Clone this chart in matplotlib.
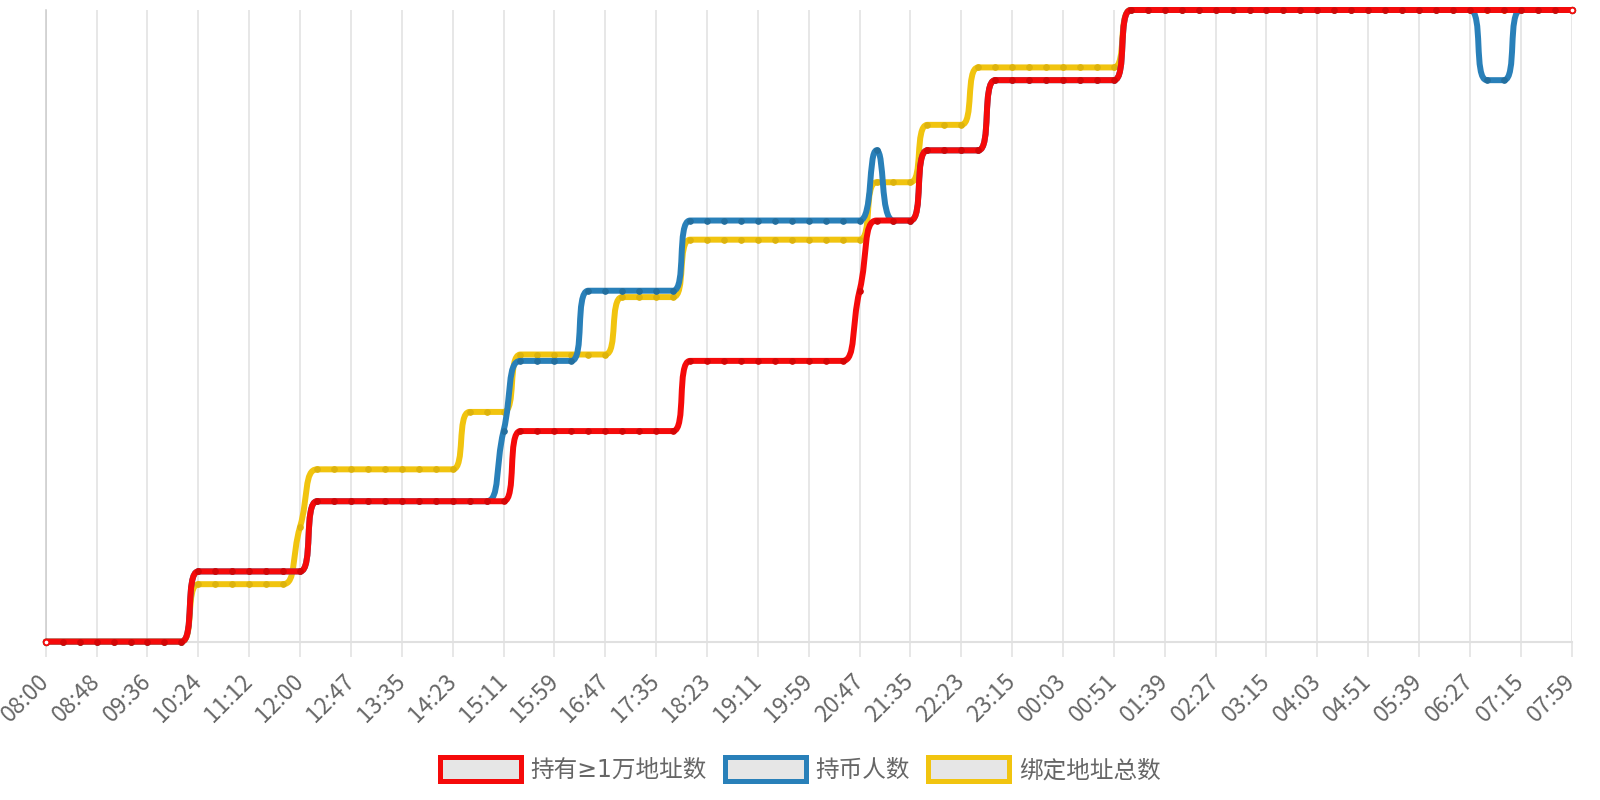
import math
import matplotlib
matplotlib.use("Agg")
import matplotlib.pyplot as plt
from matplotlib.path import Path
from matplotlib.patches import PathPatch, Patch

plt.rcParams['font.family'] = ['Noto Sans CJK SC', 'DejaVu Sans']

# one point every ~16 minutes from 08:00 to 07:59, labels on every 3rd point
tick_labels = ["08:00", "08:48", "09:36", "10:24", "11:12", "12:00", "12:47", "13:35",
               "14:23", "15:11", "15:59", "16:47", "17:35", "18:23", "19:11", "19:59",
               "20:47", "21:35", "22:23", "23:15", "00:03", "00:51", "01:39", "02:27",
               "03:15", "04:03", "04:51", "05:39", "06:27", "07:15", "07:59"]

red_vals = ([0] * 9 + [1] * 7 + [2] * 12 + [3] * 10 + [4] * 10 + [5] + [6] * 3
            + [7] * 4 + [8] * 8 + [9] * 27)
blue_vals = ([0] * 9 + [1] * 7 + [2] * 11 + [3] + [4] * 4 + [5] * 6 + [6] * 11 + [7]
             + [6] * 2 + [7] * 4 + [8] * 8 + [9] * 21 + [8] * 2 + [9] * 4)
yellow_vals = ([0] * 9 + [1] * 6 + [2] + [3] * 9 + [4] * 3 + [5] * 6 + [6] * 4 + [7] * 11
               + [8] * 3 + [9] * 3 + [10] * 9 + [11] * 27)

series_names = ["持有≥1万地址数", "持币人数", "绑定地址总数"]
colors = ["#f50a0a", "#2980b9", "#f1c40f"]
dot_colors = ["#d40606", "#236f9f", "#ddb30c"]

x = list(range(len(red_vals)))


def smooth_path(ax, xs, ys, smooth=0.5):
    # echarts style smoothing, computed in pixel space
    pts = ax.transData.transform(list(zip(xs, ys)))
    n = len(pts)
    c_in = [tuple(p) for p in pts]
    c_out = [tuple(p) for p in pts]
    for i in range(1, n - 1):
        px, py = pts[i - 1]
        cx, cy = pts[i]
        nx, ny = pts[i + 1]
        vx, vy = nx - px, ny - py
        d0 = math.hypot(cx - px, cy - py)
        d1 = math.hypot(nx - cx, ny - cy)
        r = d1 / (d0 + d1)
        ox = cx + vx * smooth * r
        oy = cy + vy * smooth * r
        ox = max(min(ox, max(nx, cx)), min(nx, cx))
        oy = max(min(oy, max(ny, cy)), min(ny, cy))
        vx, vy = ox - cx, oy - cy
        ix = cx - vx * d0 / d1
        iy = cy - vy * d0 / d1
        ix = max(min(ix, max(px, cx)), min(px, cx))
        iy = max(min(iy, max(py, cy)), min(py, cy))
        vx, vy = cx - ix, cy - iy
        c_in[i] = (ix, iy)
        c_out[i] = (cx + vx * d1 / d0, cy + vy * d1 / d0)
    verts = [tuple(pts[0])]
    codes = [Path.MOVETO]
    for i in range(n - 1):
        verts += [c_out[i], c_in[i + 1], tuple(pts[i + 1])]
        codes += [Path.CURVE4] * 3
    verts = ax.transData.inverted().transform(verts)
    return Path(verts, codes)


fig = plt.figure(figsize=(16, 8), dpi=100)
fig.subplots_adjust(left=0.0286, right=0.9823, bottom=0.198, top=0.9875)
ax = fig.add_subplot(111)
ax2 = ax.twinx()

ax.set_xlim(0, 90)
ax.set_ylim(0, 11)
ax2.set_ylim(0, 9)

ax.set_xticks(range(0, 91, 3))
ax.set_xticklabels(tick_labels, rotation=45, ha='right', va='center',
                   rotation_mode='anchor', fontsize=16.5, color='#666666')
ax.tick_params(axis='x', length=11, width=1.1, color='#e0e0e0', pad=15)
ax.set_yticks([])
ax2.set_yticks([])
ax.grid(axis='x', color='#e0e0e0', linewidth=1.1)
ax.set_axisbelow(True)
for s in ['top', 'right']:
    ax.spines[s].set_visible(False)
ax.spines['left'].set_color('#cccccc')
ax.spines['left'].set_linewidth(1.1)
ax.spines['bottom'].set_color('#e0e0e0')
ax.spines['bottom'].set_linewidth(1.5)
for s in ax2.spines.values():
    s.set_visible(False)

plot_list = [(ax2, red_vals, 0), (ax2, blue_vals, 1), (ax, yellow_vals, 2)]
zorders = {0: 5, 1: 4, 2: 3}
for a, vals, k in plot_list:
    path = smooth_path(a, x, vals)
    a.add_patch(PathPatch(path, fill=False, edgecolor=colors[k], linewidth=4.3,
                          capstyle='round', joinstyle='round', clip_on=False,
                          zorder=zorders[k]))
    a.plot(x[1:-1], vals[1:-1], 'o', ms=3.8, color=dot_colors[k], clip_on=False,
           zorder=zorders[k] + 0.1)
    a.plot([x[0], x[-1]], [vals[0], vals[-1]], 'o', ms=4, markerfacecolor='white',
           markeredgecolor=colors[k], markeredgewidth=1.3, clip_on=False,
           zorder=zorders[k] + 0.2)

handles = [Patch(facecolor='#e6e6e6', edgecolor=c, linewidth=3.6) for c in colors]
leg = fig.legend(handles, series_names, loc='center', bbox_to_anchor=(0.5, 0.038), ncol=3,
                 frameon=False, fontsize=17, labelcolor='#666666', handlelength=3.45,
                 handleheight=1.2, handletextpad=0.4, columnspacing=0.75)
for t in leg.get_texts():
    t.set_fontfamily(['DejaVu Sans', 'Noto Sans CJK SC'])

fig.savefig('out.png', dpi=100)
